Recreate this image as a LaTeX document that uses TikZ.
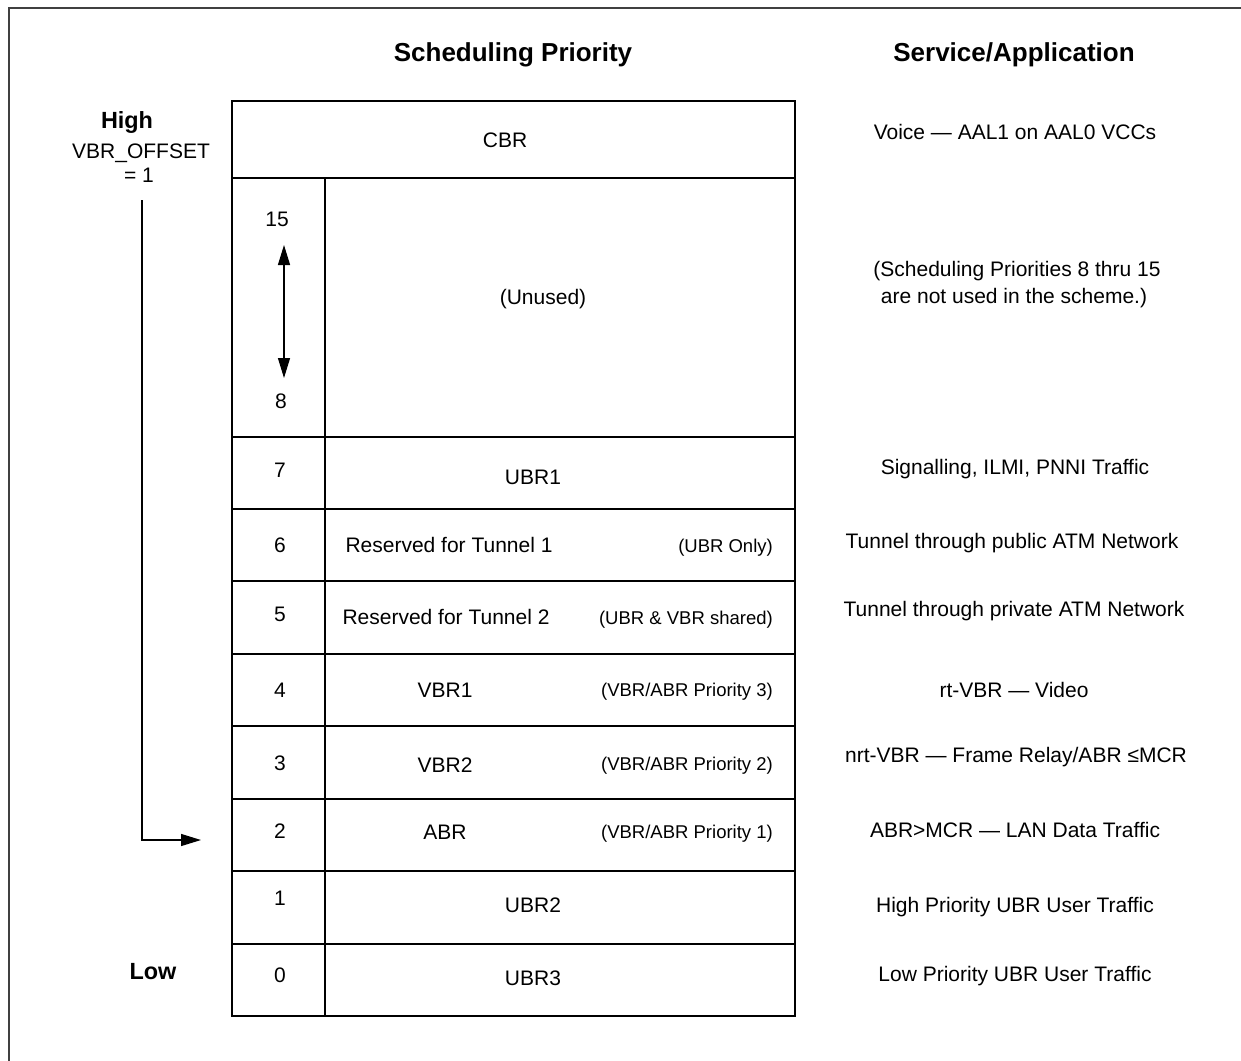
\documentclass[tikz,border=0pt]{standalone}
\usepackage{fontspec}
\setmainfont{Liberation Sans}
\usetikzlibrary{arrows.meta}
\begin{document}
\begin{tikzpicture}[x=1pt,y=-1pt,
  lbl/.style={inner sep=0pt,font=\fontsize{21}{24}\selectfont},
  small/.style={inner sep=0pt,font=\fontsize{18.5}{22}\selectfont},
  head/.style={inner sep=0pt,font=\fontsize{26}{30}\selectfont\bfseries},
  hl/.style={inner sep=0pt,font=\fontsize{23.4}{27}\selectfont\bfseries},
  outer/.style={line width=2.6pt},
  inner/.style={line width=2pt},
  arr/.style={line width=1.3pt,-{Triangle[length=20pt,width=12pt]}},
  darr/.style={line width=1.3pt,{Triangle[length=20pt,width=12pt]}-{Triangle[length=20pt,width=12pt]}}]
\useasboundingbox (0,0) rectangle (1241,1060);
% frame (top and left edges visible)
\draw[line width=2pt,color=black!75] (8.5,1070) -- (8.5,8) -- (1250,8);
% headings
\node[head] (h1) at (513,55) {Scheduling Priority};
\node[head] (h2) at (1014,55) {Service/Application};
% left labels
\node[hl] (high) at (127,122) {High};
\node[lbl] (vbro) at (141,153) {VBR\_OFFSET};
\node[lbl] (eq1) at (139,175) {= 1};
\node[hl] (low) at (153,972) {Low};
\coordinate (arrtop) at (142,200);
\coordinate (arrend) at (201,840);
\draw[arr] (arrtop) |- (arrend);
% table
\draw[outer] (232,101) rectangle (795,1016);
\draw[inner] (232,178) -- (795,178);
\draw[inner] (325,178) -- (325,1016);
\foreach \yy in {437,509,581,654,726,799,871,944}{
  \draw[inner] (232,\yy) -- (795,\yy);
}
% table texts
\node[lbl] (cbr) at (505,140) {CBR};
\node[lbl] (n15) at (277,219) {15};
\node[lbl] (n8) at (281,401) {8};
\coordinate (dtop) at (284,245);
\coordinate (dbot) at (284,378);
\draw[darr] (dtop) -- (dbot);
\node[lbl] (unused) at (543,299) {(Unused)};
\node[lbl] (n7) at (280,470) {7};
\node[lbl] (n6) at (280,545) {6};
\node[lbl] (n5) at (280,614) {5};
\node[lbl] (n4) at (280,690) {4};
\node[lbl] (n3) at (280,763) {3};
\node[lbl] (n2) at (280,831) {2};
\node[lbl] (n1) at (280,898) {1};
\node[lbl] (n0) at (280,975) {0};
\node[lbl] (ubr1) at (533,477) {UBR1};
\node[lbl] (tun1) at (449,545) {Reserved for Tunnel 1};
\node[small,anchor=east] (tun1b) at (773,548) {(UBR Only)};
\node[lbl] (tun2) at (446,617) {Reserved for Tunnel 2};
\node[small,anchor=east] (tun2b) at (773,620) {(UBR \& VBR shared)};
\node[lbl] (vbr1) at (445,690) {VBR1};
\node[small,anchor=east] (vbr1b) at (773,692) {(VBR/ABR Priority 3)};
\node[lbl] (vbr2) at (445,765) {VBR2};
\node[small,anchor=east] (vbr2b) at (773,766) {(VBR/ABR Priority 2)};
\node[lbl] (abr) at (445,832) {ABR};
\node[small,anchor=east] (abrb) at (773,834) {(VBR/ABR Priority 1)};
\node[lbl] (ubr2) at (533,905) {UBR2};
\node[lbl] (ubr3) at (533,978) {UBR3};
% right column
\node[lbl] (r1) at (1015,132) {Voice — AAL1 on AAL0 VCCs};
\node[lbl] (r2a) at (1017,271) {(Scheduling Priorities 8 thru 15};
\node[lbl] (r2b) at (1014,298) {are not used in the scheme.)};
\node[lbl] (r3) at (1015,469) {Signalling, ILMI, PNNI Traffic};
\node[lbl] (r4) at (1012,543) {Tunnel through public ATM Network};
\node[lbl] (r5) at (1014,611) {Tunnel through private ATM Network};
\node[lbl] (r6) at (1014,690) {rt-VBR — Video};
\node[lbl] (r7) at (1016,757) {nrt-VBR — Frame Relay/ABR ≤MCR};
\node[lbl] (r8) at (1015,830) {ABR>MCR — LAN Data Traffic};
\node[lbl] (r9) at (1015,907) {High Priority UBR User Traffic};
\node[lbl] (r10) at (1015,976) {Low Priority UBR User Traffic};
\end{tikzpicture}
\end{document}
